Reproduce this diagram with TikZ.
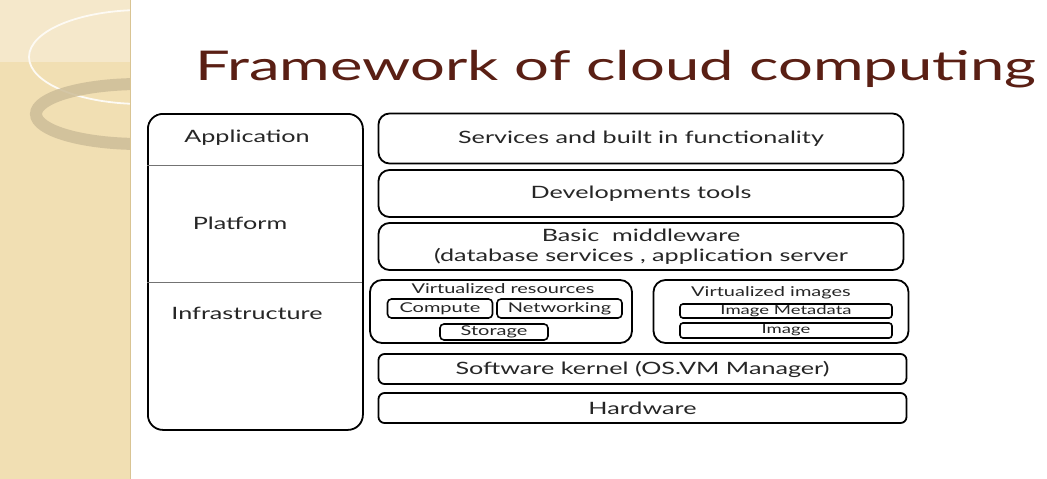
\documentclass[tikz,border=0pt]{standalone}
\usepackage{fontspec}
\setmainfont{Lato}
\newcommand{\hs}[1]{\scalebox{1.48}[1]{#1}}
\definecolor{strip}{HTML}{F1DFB3}
\definecolor{stripline}{HTML}{D9C493}
\definecolor{striptop}{HTML}{F5E8CB}
\definecolor{ring}{HTML}{CDBD98}
\definecolor{titlec}{HTML}{5A1F14}
\begin{document}
\begin{tikzpicture}[x=1pt,y=-1pt,
  box/.style={draw=black,line width=1.8pt,rounded corners=11pt},
  sbox/.style={draw=black,line width=1.6pt,rounded corners=4pt},
  lbl/.style={font=\fontsize{17}{20}\selectfont,text=black!85},
  slbl/.style={font=\fontsize{13.5}{15}\selectfont,text=black!85},
  tlbl/.style={font=\fontsize{12.5}{13}\selectfont,text=black!85}]
\useasboundingbox (0,0) rectangle (1047,479);
\fill[white] (0,0) rectangle (1047,479);
% left decorative strip
\fill[strip] (0,0) rectangle (130,479);
\begin{scope}
\clip (0,0) rectangle (130,479);
\fill[striptop] (0,0) rectangle (130,62);
\draw[white!85!strip,line width=1.8pt] (142,57) ellipse [x radius=113, y radius=47];
\draw[ring,opacity=0.85,line width=12pt] (140,114) ellipse [x radius=104, y radius=30];
\end{scope}
\draw[stripline,line width=1pt] (130,0) -- (130,479);
% title
\node[anchor=base west,text=titlec,font=\fontsize{41}{46}\selectfont,inner sep=0pt] (title) at (195,80) {\scalebox{1.5}[1]{Framework of cloud computing}};
% left column
\node[box,rounded corners=15pt,minimum width=215pt,minimum height=316pt,anchor=north west,inner sep=0pt] (left) at (147,113) {};
\coordinate (d1l) at (147,165); \coordinate (d1r) at (362,165);
\coordinate (d2l) at (147,282); \coordinate (d2r) at (362,282);
\draw[black!55,line width=0.8pt] (d1l) -- (d1r);
\draw[black!55,line width=0.8pt] (d2l) -- (d2r);
\node[lbl] (app) at (247,138) {\hs{Application}};
\node[lbl] (plat) at (240,223) {\hs{Platform}};
\node[lbl] (infra) at (247,313) {\hs{Infrastructure}};
% right stack
\node[box,lbl,minimum width=525pt,minimum height=50pt] (serv) at (641,138.5) {\hs{Services and built in functionality}};
\node[box,lbl,minimum width=525pt,minimum height=47pt] (dev) at (641,193.5) {\hs{Developments tools}};
\node[box,lbl,minimum width=525pt,minimum height=47pt,align=center,inner sep=0pt] (mid) at (641,246.5) {\hs{Basic\ \ middleware}\\\hs{(database services\ , application server}};
% virtualized resources
\node[box,rounded corners=12pt,minimum width=262pt,minimum height=63pt] (vres) at (501,311.5) {};
\node[slbl] (vrest) at (503,289) {\hs{Virtualized resources}};
\node[sbox,slbl,minimum width=105pt,minimum height=19pt,inner sep=0pt] (comp) at (440,308.5) {\hs{Compute}};
\node[sbox,slbl,minimum width=125pt,minimum height=19pt,inner sep=0pt] (net) at (559.5,308.5) {\hs{Networking}};
\node[sbox,slbl,minimum width=108pt,minimum height=16pt,inner sep=0pt] (stor) at (494,332) {\hs{Storage}};
% virtualized images
\node[box,rounded corners=12pt,minimum width=255pt,minimum height=63pt] (vimg) at (781,311.5) {};
\node[slbl] (vimgt) at (771,293) {\hs{Virtualized images}};
\node[sbox,tlbl,rounded corners=3pt,minimum width=212pt,minimum height=14pt,inner sep=0pt] (meta) at (786,311) {\hs{Image Metadata}};
\node[sbox,tlbl,rounded corners=3pt,minimum width=212pt,minimum height=15pt,inner sep=0pt] (img) at (786,330.5) {\hs{Image}};
% bottom
\node[box,rounded corners=6pt,lbl,minimum width=528pt,minimum height=30pt,inner sep=0pt] (kern) at (642.5,369) {\hs{Software kernel (OS.VM Manager)}};
\node[box,rounded corners=6pt,lbl,minimum width=528pt,minimum height=30pt,inner sep=0pt] (hw) at (642.5,408) {\hs{Hardware}};
\end{tikzpicture}
\end{document}
